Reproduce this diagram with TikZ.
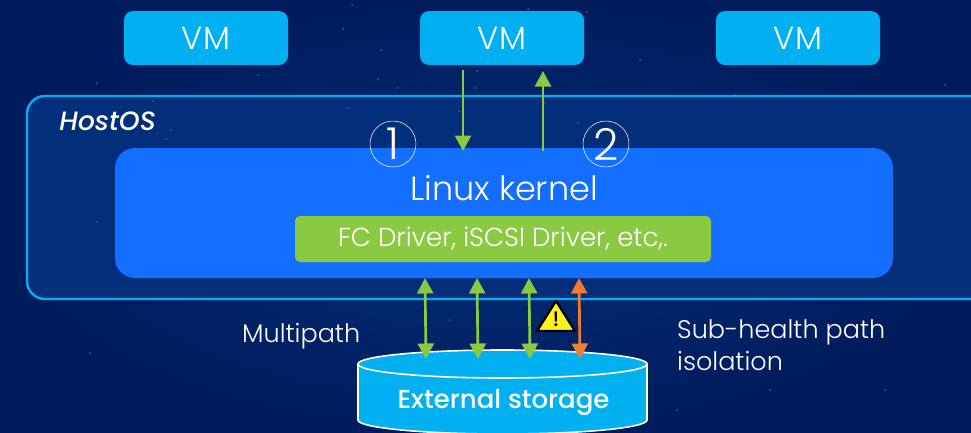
\documentclass[tikz,border=0pt]{standalone}
\usepackage{fontspec}
\setmainfont{Poppins}[UprightFont={* Light},BoldFont={* Medium},ItalicFont={* Light Italic},BoldItalicFont={* Medium Italic}]
\usepackage{tikz}
\usetikzlibrary{arrows.meta}
\definecolor{SkyBlue}{HTML}{00B0F0}
\definecolor{KernelBlue}{HTML}{146EFF}
\definecolor{HostBlue}{HTML}{032E7A}
\definecolor{NightBlue}{HTML}{011C5C}
\definecolor{PathGreen}{HTML}{8CC943}
\definecolor{PathOrange}{HTML}{ED7D31}
\definecolor{AlertYellow}{HTML}{FFF01E}
\definecolor{StarBlue}{HTML}{3F5F9F}

\begin{document}
\begin{tikzpicture}[x=1pt,y=-1pt,
    vmbox/.style={fill=SkyBlue,rounded corners=9pt,minimum width=164pt,minimum height=54pt,text=white,font=\fontsize{32}{34}\selectfont},
    label/.style={text=white,font=\fontsize{25.5}{32}\selectfont,align=left,inner sep=0pt},
    mark1/.style={draw=white,circle,line width=0.5pt,minimum size=46pt,inner sep=0pt,text=white,font=\fontsize{44}{46}\selectfont},
    path1/.style={PathGreen,line width=2.7pt,-{Triangle[length=15.5pt,width=16pt]}},
    path2/.style={PathGreen,line width=2.7pt,{Triangle[length=15.5pt,width=16pt]}-{Triangle[length=15.5pt,width=16pt]}},
  ]
  \useasboundingbox (0,0) rectangle (971,432);
  \clip (0,0) rectangle (971,432);
  % background with stars
  \shade[inner color=HostBlue,outer color=NightBlue] (0,0) rectangle (971,432);
  \foreach \sx/\sy in {352/5,343/29,381/50,378/79,397/88,477/71,475/88,528/9,587/12,97/83,450/320,90/353,258/75,180/20,640/60,735/95,885/390,677/410,770/390,945/85}
    \fill[StarBlue] (\sx,\sy) circle (1pt);
  % HostOS frame
  \draw[SkyBlue,line width=2.4pt,fill=HostBlue,rounded corners=18pt] (27,96) rectangle (990,299);
  \foreach \sx/\sy in {153/101,171/130,166/139,97/222,348/108,459/111,544/103,578/123}
    \fill[StarBlue] (\sx,\sy) circle (1pt);
  \node[label,font=\bfseries\itshape\fontsize{26.5}{28}\selectfont] (hostos) at (107.5,121) {HostOS};
  \node[fill=KernelBlue,rounded corners=20pt,minimum width=778pt,minimum height=130pt] (kernel) at (504,213) {};
  \node[text=white,font=\fontsize{33.5}{35}\selectfont,inner sep=0pt] (kernellabel) at (504,188) {Linux kernel};
  \node[fill=PathGreen,rounded corners=5pt,minimum width=416pt,minimum height=46pt,text=white,font=\fontsize{26}{28}\selectfont] (driver) at (503,239) {FC Driver, iSCSI Driver, etc,.};
  % VMs
  \node[vmbox] (vmleft) at (206,38) {VM};
  \node[vmbox] (vmmid) at (502,38) {VM};
  \node[vmbox] (vmright) at (798,38) {VM};
  % external storage
  \draw[white,line width=1.6pt,fill=SkyBlue] (358,363) -- (358,420) arc[start angle=180,end angle=0,x radius=144.5,y radius=14] -- (647,363);
  \draw[white,line width=1.6pt,fill=SkyBlue] (502.5,364) ellipse [x radius=144.5,y radius=14];
  \node[text=white,font=\bfseries\fontsize{26}{28}\selectfont,inner sep=0pt] (storage) at (503.5,402) {External storage};
  % free ends of the paths
  \coordinate (down1) at (463,70);
  \coordinate (down2) at (463,151);
  \coordinate (up1) at (543,151);
  \coordinate (up2) at (543,71);
  \draw[path1] (down1) -- (down2);
  \draw[path1] (up1) -- (up2);
  \coordinate (a1) at (425,278);
  \coordinate (a2) at (426,359);
  \coordinate (b1) at (477,278);
  \coordinate (b2) at (478,359);
  \coordinate (c1) at (529,278);
  \coordinate (c2) at (530,359);
  \coordinate (d1) at (579,278);
  \coordinate (d2) at (580,359);
  \draw[path2] (a1) -- (a2);
  \draw[path2] (b1) -- (b2);
  \draw[path2] (c1) -- (c2);
  \draw[path2,PathOrange] (d1) -- (d2);
  % numbered marks
  \node[mark1] (one) at (393,144) {1};
  \node[mark1] (two) at (606,144) {2};
  % warning sign
  \draw[black,fill=AlertYellow,line width=2.2pt,line join=round] (556,301) -- (575,331) -- (537,331) -- cycle;
  \node[text=black,font=\bfseries\fontsize{21}{22}\selectfont,inner sep=0pt] (warning) at (556,319) {!};
  % side labels
  \node[label,anchor=west] (multipath) at (242,336) {Multipath};
  \node[label,anchor=north west] (subhealth) at (677,319) {Sub-health path\\isolation};
\end{tikzpicture}
\end{document}
